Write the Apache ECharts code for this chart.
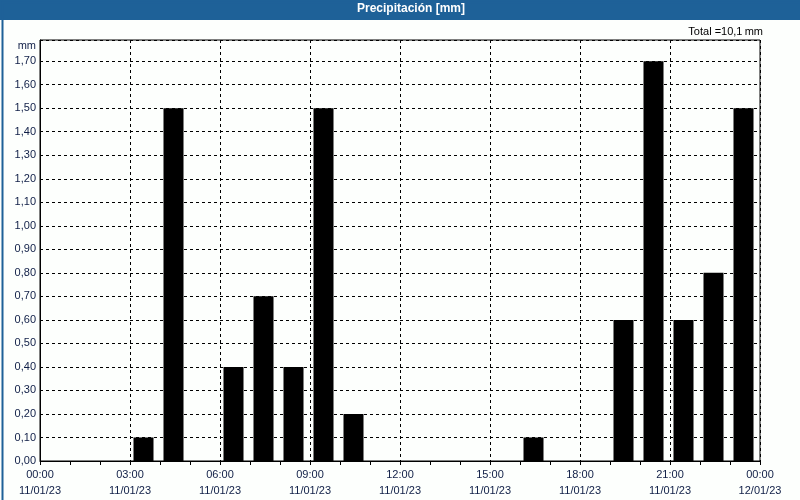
<!DOCTYPE html>
<html>
<head>
<meta charset="utf-8">
<script src="https://cdn.jsdelivr.net/npm/echarts@6/dist/echarts.min.js"></script>
<style>html,body{margin:0;padding:0;background:#fff}#c{width:800px;height:500px}</style>
</head>
<body>
<div id="c"></div>
<script>
// Hourly precipitation (mm), hours 0..23 of 11/01/23
const hours = [0,1,2,3,4,5,6,7,8,9,10,11,12,13,14,15,16,17,18,19,20,21,22,23];
const precip = [0,0,0,0.1,1.5,0,0.4,0.7,0.4,1.5,0.2,0,0,0,0,0,0.1,0,0,0.6,1.7,0.6,0.8,1.5];
const tickHours = [0,3,6,9,12,15,18,21,24];
const tickLabels = ['00:00\n11/01/23','03:00\n11/01/23','06:00\n11/01/23','09:00\n11/01/23','12:00\n11/01/23','15:00\n11/01/23','18:00\n11/01/23','21:00\n11/01/23','00:00\n12/01/23'];
const titleText = 'Precipitación [mm]';
const unit = 'mm';

const total = precip.reduce((a,b)=>a+b,0);
const totalText = 'Total =' + total.toFixed(1).replace('.', ',') + '\u2009mm';
const barData = hours.map((h,i)=>[h+0.45, precip[i]]).filter(d=>d[1]>0);

const FONT = 'Liberation Sans';
const LBL = '#0f1e46';
const chart = echarts.init(document.getElementById('c'), null, {renderer:'canvas'});
chart.setOption({
  animation:false,
  backgroundColor:'#fdfffd',
  textStyle:{fontFamily:FONT},
  graphic:[
    {type:'rect', left:0, top:0, shape:{width:800,height:20}, style:{fill:'#1e6198'}, z:-1},
    {type:'rect', left:0, top:0, shape:{x:0.5,y:0.5,width:799,height:499}, style:{fill:null, stroke:'#1e6198', lineWidth:2}, z:-1},
    {type:'text', x:36, y:46, style:{text:unit, fill:LBL, font:'11px '+FONT, align:'right', verticalAlign:'middle'}},
    {type:'text', x:763, y:32, style:{text:totalText, fill:'#000', font:'11px '+FONT, align:'right', verticalAlign:'middle'}}
  ],
  title:{text:titleText, left:357, top:3, padding:0,
    textStyle:{color:'#fff', fontSize:12, fontWeight:'bold', fontFamily:FONT}},
  grid:{left:40, right:40, top:40, bottom:39, show:true, borderColor:'#000', borderWidth:1, backgroundColor:'transparent'},
  xAxis:{
    type:'value', min:0, max:24, interval:3,
    axisLine:{lineStyle:{color:'#000', width:1}},
    axisTick:{show:true, length:4, lineStyle:{color:'#000'}},
    minorTick:{show:true, splitNumber:3, length:4, lineStyle:{color:'#000'}},
    splitLine:{show:true, lineStyle:{color:'#000', type:[3,3], width:1}},
    axisLabel:{margin:6, color:LBL, fontSize:11, lineHeight:16, fontFamily:FONT,
      formatter:v=>{const i=tickHours.indexOf(Math.round(v)); return i>=0?tickLabels[i]:'';}}
  },
  yAxis:{
    type:'value', min:0, max:1.79, interval:0.1,
    axisLine:{show:true, lineStyle:{color:'#000'}},
    axisTick:{show:false},
    splitLine:{show:true, lineStyle:{color:'#000', type:[3,3], width:1}},
    axisLabel:{margin:4, color:LBL, fontSize:11, fontFamily:FONT, showMaxLabel:false,
      formatter:v=>{const r=Math.round(v*10); return Math.abs(v*10-r)<1e-6 ? (r/10).toFixed(2).replace('.', ',') : '';}}
  },
  series:[{type:'bar', data:barData, barWidth:20, itemStyle:{color:'#000'}}]
});
</script>
</body>
</html>
